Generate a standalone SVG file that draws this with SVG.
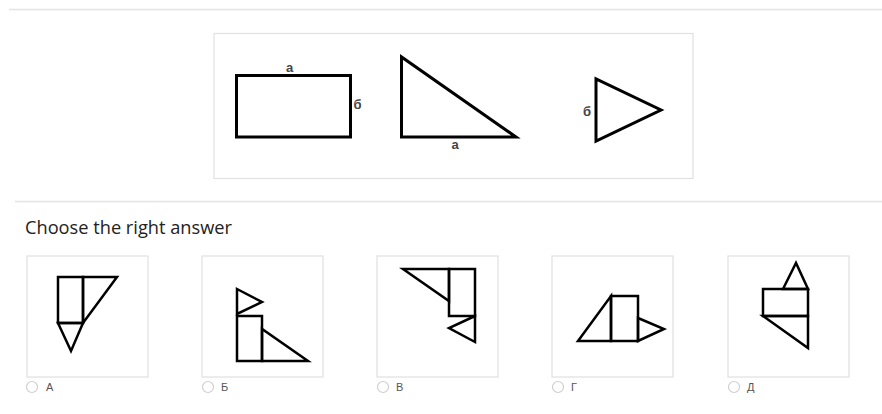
<svg xmlns="http://www.w3.org/2000/svg" width="882" height="414" viewBox="0 0 882 414">
<style>
.sep{stroke:#e3e3e3;stroke-width:1.5;fill:none}
.box{fill:#fff;stroke:#e0e0e0;stroke-width:1.2}
.big{fill:none;stroke:#000;stroke-width:3;stroke-linejoin:miter}
.sm{fill:none;stroke:#000;stroke-width:2.5;stroke-linejoin:miter}
.lbl{font-family:"Liberation Sans",Arial,sans-serif;font-weight:bold;font-size:13px;fill:#444;text-anchor:middle}
.radio{fill:#fff;stroke:#cfcfcf;stroke-width:1.2}
.opt{font-family:"Liberation Sans",Arial,sans-serif;font-size:11px;fill:#555}
.q{font-family:"Open Sans","Liberation Sans",sans-serif;font-size:18px;fill:#222}
</style>
<rect width="882" height="414" fill="#fff"/>
<line class="sep" x1="9" y1="9.5" x2="882" y2="9.5"/>
<line class="sep" x1="15" y1="201.5" x2="882" y2="201.5"/>
<g id="question">
<rect class="box" x="214" y="33.5" width="479" height="145"/>
<rect class="big" x="236.5" y="75.5" width="114" height="61.5"/>
<text class="lbl" x="289.5" y="72">а</text>
<text class="lbl" x="357.5" y="109">б</text>
<polygon class="big" points="401.5,57 401.5,137 516,137"/>
<text class="lbl" x="455" y="149">а</text>
<polygon class="big" points="596,79 596,141 661,110"/>
<text class="lbl" x="587" y="116">б</text>
</g>
<text class="q" x="25" y="234" textLength="207" lengthAdjust="spacingAndGlyphs">Choose the right answer</text>
<g id="optA">
<rect class="box" x="27" y="256" width="121" height="121"/>
<rect class="sm" x="58" y="277" width="25" height="46"/>
<polygon class="sm" points="83,277 117,277 83,323"/>
<polygon class="sm" points="58,323 83,323 71,351"/>
<circle class="radio" cx="32" cy="387" r="5.5"/>
<text class="opt" x="46" y="391">А</text>
</g>
<g id="optB">
<rect class="box" x="202" y="256" width="121" height="121"/>
<polygon class="sm" points="237,289 262,302 237,314"/>
<rect class="sm" x="237" y="316" width="25" height="45"/>
<polygon class="sm" points="262,329 262,361 308,361"/>
<circle class="radio" cx="208" cy="387" r="5.5"/>
<text class="opt" x="221" y="391">Б</text>
</g>
<g id="optV">
<rect class="box" x="377" y="256" width="121" height="121"/>
<polygon class="sm" points="403,269 449,269 449,301"/>
<rect class="sm" x="449" y="269" width="26" height="47"/>
<polygon class="sm" points="475,316 449,328 475,342"/>
<circle class="radio" cx="383" cy="387" r="5.5"/>
<text class="opt" x="396" y="391">В</text>
</g>
<g id="optG">
<rect class="box" x="552" y="256" width="121" height="121"/>
<rect class="sm" x="611" y="296" width="27" height="45"/>
<polygon class="sm" points="611,296 611,341 578,341"/>
<polygon class="sm" points="638,318 664,329 638,341"/>
<circle class="radio" cx="558" cy="387" r="5.5"/>
<text class="opt" x="571" y="391">Г</text>
</g>
<g id="optD">
<rect class="box" x="728" y="256" width="121" height="121"/>
<polygon class="sm" points="783,289 796,263 808,289"/>
<rect class="sm" x="763" y="289" width="45" height="27"/>
<polygon class="sm" points="763,316 808,316 808,348"/>
<circle class="radio" cx="734" cy="387" r="5.5"/>
<text class="opt" x="747" y="391">Д</text>
</g>
</svg>
